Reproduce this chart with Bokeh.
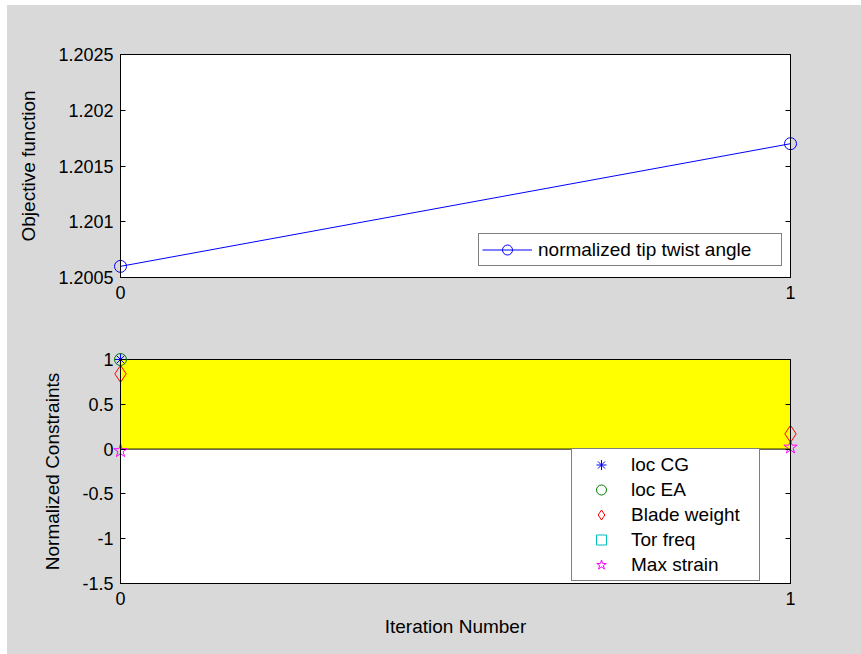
import numpy as np
from bokeh.plotting import figure
from bokeh.models import (Range1d, FixedTicker, LinearAxis, Legend, LegendItem,
                          CustomJSTickFormatter)
from bokeh.layouts import column
from bokeh.embed import file_html
from bokeh.resources import INLINE

# ---- optimisation history ----
iterations = [0, 1]

objective = [1.2006, 1.2017]
objective_label = "normalized tip twist angle"

constraint_names = ["loc CG", "loc EA", "Blade weight", "Tor freq", "Max strain"]
loc_cg = np.array([1.0, np.nan])
loc_ea = np.array([1.0, np.nan])
blade_weight = np.array([0.84, 0.17])
tor_freq = np.array([np.nan, np.nan])
max_strain = np.array([-0.02, 0.02])

# feasible band of the normalized constraints
feasible_low = 0.0
feasible_high = 1.0

obj_limits = (1.2005, 1.2025)
con_limits = (-1.5, 1.0)
iter_limits = (0, 1)

obj_ticks = [1.2005, 1.201, 1.2015, 1.202, 1.2025]
obj_tick_labels = ["1.2005", "1.201", "1.2015", "1.202", "1.2025"]
con_ticks = [-1.5, -1.0, -0.5, 0.0, 0.5, 1.0]
con_tick_labels = ["-1.5", "-1", "-0.5", "0", "0.5", "1"]
iter_ticks = [0, 1]
iter_tick_labels = ["0", "1"]

FONT = "Liberation Sans"
BG = "#d9d9d9"
TICK_SIZE = "18px"
LABEL_SIZE = "19px"

# The drawing frame is a little larger than the axes box so that markers
# sitting on the box edges are not cut off.
PAD = 10          # px of breathing room around the axes box
BOX_W = 670       # axes box width, px
FIG_W = 854
LEFT = 113        # space left of the axes box

TEXT_STYLE = dict(major_label_text_font=FONT, major_label_text_font_size=TICK_SIZE,
                  major_label_text_color="black",
                  axis_label_text_font=FONT, axis_label_text_font_size=LABEL_SIZE,
                  axis_label_text_font_style="normal", axis_label_text_color="black")
NO_LINES = dict(axis_line_color=None, major_tick_line_color=None,
                minor_tick_line_color=None, major_tick_in=0, major_tick_out=0)


def padded(lo, hi, box_px):
    d = (hi - lo) * PAD / box_px
    return Range1d(lo - d, hi + d)


def tick_axis(ticks, bounds, loc):
    # axis line and inward ticks drawn right on the edge of the axes box
    return LinearAxis(ticker=FixedTicker(ticks=ticks),
                      formatter=CustomJSTickFormatter(code="return ''"),
                      major_tick_in=5, major_tick_out=0,
                      major_tick_line_color="black", minor_tick_line_color=None,
                      axis_line_color="black", major_label_text_color=None,
                      bounds=bounds, fixed_location=loc)


def make_panel(height, box_top, box_h, xlim, ylim, xticks, xlabels,
               yticks, ylabels, ylabel, xlabel=None):
    p = figure(width=FIG_W, height=height, output_backend="svg", toolbar_location=None,
               x_range=padded(*xlim, BOX_W), y_range=padded(*ylim, box_h),
               x_axis_location=None, y_axis_location=None,
               min_border_left=LEFT - PAD,
               min_border_right=FIG_W - LEFT - BOX_W - PAD,
               min_border_top=box_top - PAD,
               min_border_bottom=height - box_top - box_h - PAD)
    p.grid.visible = False
    p.outline_line_color = None
    p.border_fill_color = BG
    p.background_fill_color = BG

    # white axes box with a black rim
    p.quad(left=xlim[0], right=xlim[1], bottom=ylim[0], top=ylim[1],
           fill_color="white", line_color="black", line_width=1)

    # tick labels and axis titles, placed on the frame edge
    xlab = LinearAxis(ticker=FixedTicker(ticks=xticks),
                      major_label_overrides=dict(zip(xticks, xlabels)),
                      major_label_standoff=8 - PAD, **NO_LINES, **TEXT_STYLE)
    if xlabel:
        xlab.axis_label = xlabel
        xlab.axis_label_standoff = 8
    p.add_layout(xlab, "below")

    ylab = LinearAxis(ticker=FixedTicker(ticks=yticks),
                      major_label_overrides=dict(zip(yticks, ylabels)),
                      major_label_standoff=7 - PAD,
                      axis_label=ylabel, axis_label_standoff=16,
                      **NO_LINES, **TEXT_STYLE)
    p.add_layout(ylab, "left")

    p.add_layout(tick_axis(xticks, xlim, ylim[0]), "below")
    p.add_layout(tick_axis(yticks, ylim, xlim[0]), "left")
    p.add_layout(tick_axis(yticks, ylim, xlim[1]), "right")
    return p


def make_legend(items, loc, glyph_w, label_w, standoff):
    return Legend(items=items, location=loc, padding=3, spacing=0, margin=0,
                  glyph_width=glyph_w, glyph_height=25, label_height=25,
                  label_width=label_w, label_standoff=standoff,
                  border_line_color="black", border_line_width=1,
                  background_fill_color="white", background_fill_alpha=1,
                  label_text_font=FONT, label_text_font_size=LABEL_SIZE,
                  label_text_color="black")


# ---- objective function panel ----
top = make_panel(313, 49, 223, iter_limits, obj_limits, iter_ticks, iter_tick_labels,
                 obj_ticks, obj_tick_labels, "Objective function")

obj_line = top.line(iterations, objective, line_color="blue", line_width=1)
obj_mark = top.scatter(iterations, objective, marker="circle", size=12,
                       line_color="blue", fill_color=None, line_width=1)

top.add_layout(make_legend([LegendItem(label=objective_label,
                                       renderers=[obj_line, obj_mark])],
                           (368, 21), 50, 240, 6))

# ---- normalized constraints panel ----
bot = make_panel(336, 41, 224, iter_limits, con_limits, iter_ticks, iter_tick_labels,
                 con_ticks, con_tick_labels, "Normalized Constraints", "Iteration Number")

bot.quad(left=iterations[0], right=iterations[-1], bottom=feasible_low, top=feasible_high,
         fill_color="#ffff00", line_color="black", line_width=1)

series = [
    (loc_cg, "asterisk", "#0000ff", 12),
    (loc_ea, "circle", "#008000", 12),
    (blade_weight, "diamond", "#ff0000", 17),
    (tor_freq, "square", "#00bfbf", 11),
    (max_strain, "star", "#ff00ff", 14),
]
items = []
for name, (vals, marker, color, size) in zip(constraint_names, series):
    r = bot.scatter(iterations, vals, marker=marker, size=size,
                    line_color=color, fill_color=None, line_width=1)
    items.append(LegendItem(label=name, renderers=[r]))

bot.add_layout(make_legend(items, (461, 12), 52, 125, 4))

layout = column(top, bot, spacing=0, margin=(5, 0, 0, 7),
                styles={"background-color": BG})

with open("out.html", "w") as f:
    f.write(file_html(layout, INLINE))
